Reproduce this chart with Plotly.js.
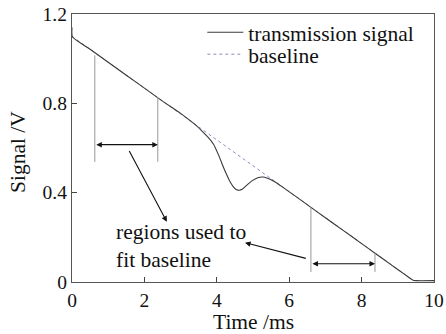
<!DOCTYPE html>
<html>
<head>
<meta charset="utf-8">
<script src="https://cdn.plot.ly/plotly-3.0.1.min.js"></script>
<style>html,body{margin:0;padding:0;background:#fff;}#chart{width:446px;height:334px;}</style>
</head>
<body>
<div id="chart"></div>
<script>
// Transmission signal
var signalX = [0, 0.01, 0.5, 1, 1.5, 2, 2.5, 3, 3.3, 3.45, 3.6, 3.75, 3.91, 4.05, 4.18, 4.28, 4.37, 4.47, 4.55, 4.62, 4.7, 4.83, 4.98, 5.15, 5.28, 5.38, 5.5, 5.61, 5.8, 6.2, 6.6, 7, 7.5, 8, 8.37, 8.8, 9.2, 9.42, 9.5, 10];
var signalY = [1.14, 1.098, 1.042, 0.984, 0.926, 0.868, 0.81, 0.755, 0.718, 0.698, 0.674, 0.65, 0.617, 0.568, 0.515, 0.478, 0.448, 0.424, 0.413, 0.411, 0.415, 0.434, 0.454, 0.468, 0.47, 0.466, 0.458, 0.448, 0.427, 0.381, 0.334, 0.288, 0.23, 0.172, 0.129, 0.079, 0.033, 0.008, 0.006, 0.006];
// Baseline
var baselineX = [0, 3.54, 5.61, 9.42];
var baselineY = [1.1, 0.689, 0.448, 0.008];
// Fit regions: [xStart, xEnd], vertical marker extents, arrow level
var region1X = [0.63, 2.37];
var region1Top = [1.015, 0.828];
var region1Bottom = 0.538;
var region1ArrowY = 0.615;
var region2X = [6.6, 8.37];
var region2Top = [0.334, 0.13];
var region2Bottom = 0.045;
var region2ArrowY = 0.082;
// Pointer arrows: [tailX, tailY, headX, headY]
var pointer1 = [1.56, 0.593, 2.62, 0.27];
var pointer2 = [6.5, 0.104, 4.78, 0.176];
var labelText = 'regions used to<br>fit baseline';
var labelPos = [1.16, 0.16];
var xTicks = [0, 2, 4, 6, 8, 10];
var yTicks = [0, 0.4, 0.8, 1.2];

var F = '"Liberation Serif", "DejaVu Serif", "Times New Roman", Times, serif';
var FS = 21.5;

var traces = [
  {x: baselineX, y: baselineY, mode: 'lines', name: 'baseline', legend: 'legend2',
   line: {color: '#8a8ac4', width: 1, dash: 'dot'}},
  {x: signalX, y: signalY, mode: 'lines', name: 'transmission signal', legend: 'legend',
   line: {color: '#3a3a3a', width: 1.1, shape: 'spline', smoothing: 0.5}}
];
function vline(x, top, bottom) {
  traces.push({x: [x, x], y: [top, bottom], mode: 'lines', showlegend: false, hoverinfo: 'skip',
    line: {color: '#999', width: 1}});
}
vline(region1X[0], region1Top[0], region1Bottom);
vline(region1X[1], region1Top[1], region1Bottom);
vline(region2X[0], region2Top[0], region2Bottom);
vline(region2X[1], region2Top[1], region2Bottom);

function dbl(xs, y) {
  return {x: xs[1], y: y, ax: xs[0], ay: y, xref: 'x', yref: 'y', axref: 'x', ayref: 'y',
    text: '', showarrow: true, arrowhead: 2, startarrowhead: 2, arrowside: 'end+start',
    arrowsize: 1, arrowwidth: 1.1, arrowcolor: '#111', standoff: 0, startstandoff: 0};
}
function ptr(p) {
  return {x: p[2], y: p[3], ax: p[0], ay: p[1], xref: 'x', yref: 'y', axref: 'x', ayref: 'y',
    text: '', showarrow: true, arrowhead: 2, arrowsize: 1, arrowwidth: 1.1, arrowcolor: '#111', standoff: 0};
}
var legBase = {xanchor: 'left', yanchor: 'middle', bgcolor: 'rgba(0,0,0,0)', borderwidth: 0,
  font: {family: F, size: FS, color: '#111'}, itemwidth: 36};

var layout = {
  width: 446, height: 334,
  margin: {l: 72, r: 12, t: 14, b: 52},
  paper_bgcolor: '#fff', plot_bgcolor: '#fff',
  font: {family: F, size: FS, color: '#111'},
  showlegend: true,
  legend: Object.assign({}, legBase, {x: 0.36, y: 0.932}),
  legend2: Object.assign({}, legBase, {x: 0.36, y: 0.85}),
  xaxis: {range: [0, 10], tickvals: xTicks, ticks: 'inside', ticklen: 5, tickcolor: '#444',
    showline: true, linecolor: '#555', linewidth: 1.2, mirror: true, showgrid: false, zeroline: false,
    tickfont: {family: F, size: 19.5}},
  yaxis: {range: [0, 1.2], tickvals: yTicks, ticktext: ['0', '0.4', '0.8', '1.2'], ticks: 'inside', ticklen: 5, tickcolor: '#444',
    showline: true, linecolor: '#555', linewidth: 1.2, mirror: true, showgrid: false, zeroline: false,
    tickfont: {family: F, size: 19.5}},
  annotations: [
    dbl(region1X, region1ArrowY), dbl(region2X, region2ArrowY), ptr(pointer1), ptr(pointer2),
    {x: labelPos[0], y: labelPos[1], xref: 'x', yref: 'y', text: labelText, showarrow: false,
     xanchor: 'left', yanchor: 'middle', align: 'left', font: {family: F, size: FS, color: '#111'}},
    {x: 0.5, y: 0, xref: 'paper', yref: 'paper', yshift: -40, text: 'Time /ms', showarrow: false,
     xanchor: 'center', yanchor: 'middle', font: {family: F, size: FS, color: '#111'}},
    {x: 0, y: 0.485, xref: 'paper', yref: 'paper', xshift: -54, text: 'Signal /V', showarrow: false, textangle: -90,
     xanchor: 'center', yanchor: 'middle', font: {family: F, size: FS, color: '#111'}}
  ]
};
Plotly.newPlot('chart', traces, layout, {displayModeBar: false, staticPlot: true});
</script>
</body>
</html>
